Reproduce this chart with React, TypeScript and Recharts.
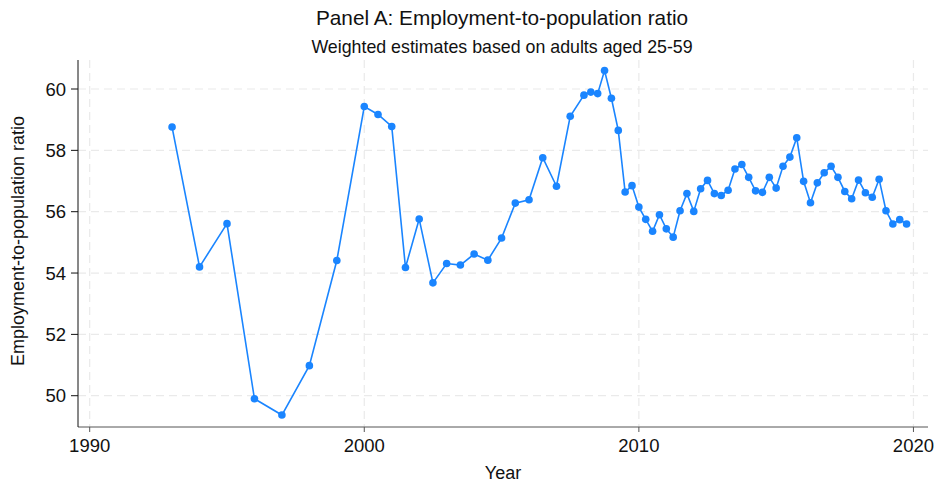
import { LineChart, Line, XAxis, YAxis, CartesianGrid } from "recharts";

// survey period (year, quarterly from 2008) and employment-to-population ratio, %
const periods = [
  1993, 1994, 1995, 1996, 1997, 1998, 1999, 2000, 2000.5, 2001, 2001.5, 2002,
  2002.5, 2003, 2003.5, 2004, 2004.5, 2005, 2005.5, 2006, 2006.5, 2007, 2007.5,
  2008, 2008.25, 2008.5, 2008.75, 2009, 2009.25, 2009.5, 2009.75, 2010,
  2010.25, 2010.5, 2010.75, 2011, 2011.25, 2011.5, 2011.75, 2012, 2012.25,
  2012.5, 2012.75, 2013, 2013.25, 2013.5, 2013.75, 2014, 2014.25, 2014.5,
  2014.75, 2015, 2015.25, 2015.5, 2015.75, 2016, 2016.25, 2016.5, 2016.75,
  2017, 2017.25, 2017.5, 2017.75, 2018, 2018.25, 2018.5, 2018.75, 2019,
  2019.25, 2019.5, 2019.75,
];
const ratio = [
  58.76, 54.2, 55.61, 49.9, 49.37, 50.98, 54.41, 59.43, 59.17, 58.78, 54.18,
  55.76, 53.68, 54.31, 54.26, 54.62, 54.42, 55.14, 56.28, 56.39, 57.76, 56.83,
  59.11, 59.8, 59.9, 59.85, 60.6, 59.7, 58.65, 56.64, 56.85, 56.15, 55.75,
  55.36, 55.9, 55.44, 55.17, 56.03, 56.59, 56.01, 56.75, 57.02, 56.59, 56.53,
  56.7, 57.39, 57.54, 57.12, 56.68, 56.63, 57.12, 56.77, 57.48, 57.78, 58.41,
  56.99, 56.29, 56.94, 57.27, 57.48, 57.12, 56.66, 56.42, 57.03, 56.62, 56.47,
  57.06, 56.03, 55.6, 55.74, 55.6,
];
const yearTicks = [1990, 2000, 2010, 2020];
const ratioTicks = [50, 52, 54, 56, 58, 60];

const data = periods.map((t, i) => ({ t, epop: ratio[i] }));

const font = "'Liberation Sans', Arial, sans-serif";
const tickStyle = { fill: "#111", fontSize: 18.5, fontFamily: font };

export default function App() {
  return (
    <div style={{ position: "absolute", left: 0, top: 0, width: 940, height: 484, background: "#fff", fontFamily: font, color: "#111" }}>
      <div style={{ position: "absolute", left: 502, top: 6, transform: "translateX(-50%)", fontSize: 20.8, whiteSpace: "nowrap" }}>
        Panel A: Employment-to-population ratio
      </div>
      <div style={{ position: "absolute", left: 502, top: 37, transform: "translateX(-50%)", fontSize: 17.8, whiteSpace: "nowrap" }}>
        Weighted estimates based on adults aged 25-59
      </div>
      <div style={{ position: "absolute", left: 503, top: 463, transform: "translateX(-50%)", fontSize: 18, whiteSpace: "nowrap" }}>
        Year
      </div>
      <div style={{ position: "absolute", left: 18, top: 241, transform: "translate(-50%, -50%) rotate(-90deg)", fontSize: 18, whiteSpace: "nowrap" }}>
        Employment-to-population ratio
      </div>
      <LineChart width={940} height={484} data={data} margin={{ top: 60, right: 12, bottom: 0, left: 0 }}>
        <CartesianGrid
          stroke="#eaeaea"
          strokeDasharray="8 5"
          strokeWidth={1.2}
          horizontalValues={ratioTicks}
          verticalValues={yearTicks}
        />
        <XAxis
          dataKey="t"
          type="number"
          domain={[1989.574, 2020.53]}
          ticks={yearTicks}
          allowDataOverflow
          height={57}
          stroke="#555"
          tickSize={5}
          tickMargin={7}
          tick={tickStyle}
        />
        <YAxis
          type="number"
          domain={[48.98, 60.946]}
          ticks={ratioTicks}
          allowDataOverflow
          width={78}
          stroke="#111"
          tickSize={7}
          tickMargin={5}
          tick={tickStyle}
        />
        <Line
          dataKey="epop"
          stroke="#1a85ff"
          strokeWidth={1.6}
          dot={{ r: 3.8, fill: "#1a85ff", stroke: "#1a85ff", strokeWidth: 0 }}
          isAnimationActive={false}
        />
      </LineChart>
    </div>
  );
}
